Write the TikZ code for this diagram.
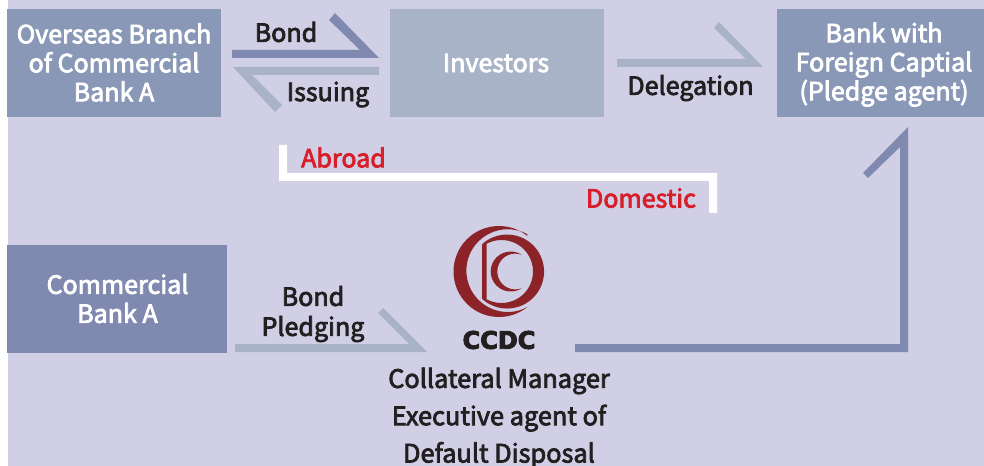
\documentclass[tikz,border=0pt]{standalone}
\usepackage{fontspec}
\setmainfont{Noto Sans CJK SC}[FakeBold=3]
\newfontfamily\logofont{DejaVu Sans}[BoldFont={DejaVu Sans Bold},BoldFeatures={FakeBold=4}]
\definecolor{bgc}{HTML}{D0CFE5}
\definecolor{boxa}{HTML}{8A98B7}
\definecolor{boxb}{HTML}{A9B3C7}
\definecolor{boxc}{HTML}{8089AF}
\definecolor{txt}{HTML}{231F20}
\definecolor{redt}{HTML}{D71F2A}
\definecolor{logor}{HTML}{8C2328}
\tikzset{
  x=0.75pt,y=-0.75pt,
  lab/.style={font=\fontsize{18.8pt}{21.75pt}\selectfont,align=center,inner sep=0pt},
  wlab/.style={lab,text=white},
  klab/.style={lab,text=txt},
  rlab/.style={lab,text=redt},
}
\begin{document}
\begin{tikzpicture}
\useasboundingbox (0,0) rectangle (984,466);
\fill[white] (0,0) rectangle (984,466);
\fill[bgc] (8,0) rectangle (984,466);
% boxes
\fill[boxa] (7,9) rectangle (221,117);
\fill[boxb] (390,9) rectangle (604,117);
\fill[boxa] (777,9) rectangle (984,117);
\fill[boxc] (7,245) rectangle (227,353);
\node[wlab] (overseas) at (114,62.5) {Overseas Branch\\of Commercial\\Bank A};
\node[wlab] (investors) at (496,63) {Investors};
\node[wlab] (foreign) at (884,64.5) {Bank with\\Foreign Captial\\(Pledge agent)};
\node[wlab] (commercial) at (117.5,298.5) {Commercial\\Bank A};
% half arrows
\fill[boxc] (232,50) -- (360,50) -- (329,20) -- (335,13) -- (379,58) -- (232,58) -- cycle;
\fill[boxb] (379,67) -- (233,67) -- (275,112) -- (282,105) -- (252,75) -- (379,75) -- cycle;
\fill[boxb] (617,59) -- (746,59) -- (714,28) -- (719,22) -- (763,67) -- (617,67) -- cycle;
\fill[boxb] (235,344) -- (409,344) -- (378,313) -- (383,308) -- (427,352) -- (235,352) -- cycle;
\fill[boxc] (575,344) -- (900,344) -- (900,147) -- (868,178) -- (863,173) -- (908,127) -- (908,352) -- (575,352) -- cycle;
% white divider
\fill[white] (279,145) -- (287,145) -- (287,173) -- (717,173) -- (717,213) -- (709,213) -- (709,181) -- (279,181) -- cycle;
% labels
\node[klab] (bond) at (286,32) {Bond};
\node[klab] (issuing) at (328,94.5) {Issuing};
\node[klab] (delegation) at (690.5,88) {Delegation};
\node[klab,font=\fontsize{18.8pt}{22.5pt}\selectfont] (pledging) at (313,314) {Bond\\Pledging};
\node[rlab] (abroad) at (343.5,157.5) {Abroad};
\node[rlab] (domestic) at (641,198) {Domestic};
\node[klab,font=\fontsize{19pt}{28pt}\selectfont] (mgr) at (499,418) {Collateral Manager\\Executive agent of\\Default Disposal};
% logo
\begin{scope}[shift={(499,271.5)},x=0.75pt,y=0.75pt]
\fill[logor] (51.5:45.5) arc[start angle=51.5,end angle=308.5,radius=45.5]
  arc[start angle=298.2,end angle=61.8,radius=41.4] -- cycle;
\fill[logor,even odd rule] (-17,27.2) arc[start angle=132.6,end angle=-132.6,radius=37] -- cycle
  (-12.3,27.8) arc[start angle=118,end angle=-118,radius=31.5] -- cycle;
\fill[logor] (22.7,16.7) arc[start angle=56.6,end angle=303.4,radius=20]
  arc[start angle=291.3,end angle=68.7,radius=17.9] -- cycle;
\end{scope}
\node[inner sep=0pt,text=txt,font=\logofont\fontsize{18pt}{20pt}\selectfont\bfseries] (ccdc) at (499,340) {CCDC};
\end{tikzpicture}
\end{document}
